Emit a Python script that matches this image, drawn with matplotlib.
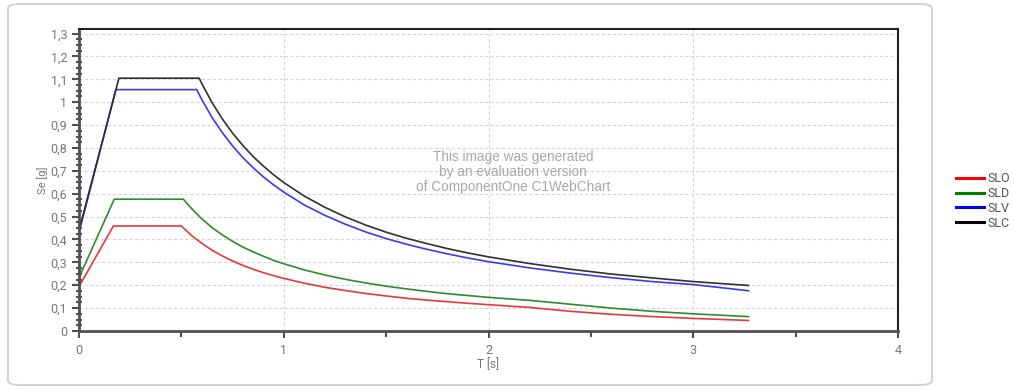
import matplotlib
matplotlib.use("Agg")
import matplotlib.pyplot as plt
from matplotlib.patches import FancyBboxPatch
from matplotlib.ticker import MultipleLocator, FuncFormatter

# Elastic response spectra
T_slo = [0, 0.168, 0.50, 0.55, 0.6, 0.65, 0.7, 0.75, 0.8, 0.85, 0.9, 0.95, 1.0, 1.1, 1.2, 1.3, 1.4,
         1.5, 1.6, 1.7, 1.8, 1.9, 2.0, 2.2, 2.4, 2.6, 2.8, 3.0, 3.27]
se_slo = [0.194, 0.459, 0.459, 0.417, 0.383, 0.353, 0.328, 0.306, 0.287, 0.270, 0.255, 0.242, 0.230,
          0.209, 0.191, 0.177, 0.164, 0.153, 0.143, 0.135, 0.128, 0.121, 0.115, 0.103, 0.086, 0.073,
          0.063, 0.055, 0.046]

T_sld = [0, 0.172, 0.51, 0.55, 0.6, 0.65, 0.7, 0.75, 0.8, 0.85, 0.9, 0.95, 1.0, 1.1, 1.2, 1.3, 1.4,
         1.5, 1.6, 1.7, 1.8, 1.9, 2.0, 2.2, 2.4, 2.6, 2.8, 3.0, 3.27]
se_sld = [0.233, 0.576, 0.576, 0.535, 0.490, 0.452, 0.420, 0.392, 0.367, 0.346, 0.327, 0.309, 0.294,
          0.267, 0.245, 0.226, 0.210, 0.196, 0.184, 0.173, 0.163, 0.155, 0.147, 0.134, 0.117, 0.100,
          0.086, 0.075, 0.063]

T_slv = [0, 0.18, 0.575, 0.6, 0.65, 0.7, 0.75, 0.8, 0.85, 0.9, 0.95, 1.0, 1.1, 1.2, 1.3, 1.4, 1.5,
         1.6, 1.7, 1.8, 1.9, 2.0, 2.2, 2.4, 2.6, 2.8, 3.0, 3.27]
se_slv = [0.43, 1.055, 1.055, 1.011, 0.933, 0.867, 0.809, 0.758, 0.714, 0.674, 0.639, 0.607, 0.551,
          0.506, 0.467, 0.433, 0.404, 0.379, 0.357, 0.337, 0.319, 0.303, 0.276, 0.253, 0.233, 0.216,
          0.203, 0.176]

T_slc = [0, 0.195, 0.587, 0.6, 0.65, 0.7, 0.75, 0.8, 0.85, 0.9, 0.95, 1.0, 1.1, 1.2, 1.3, 1.4, 1.5,
         1.6, 1.7, 1.8, 1.9, 2.0, 2.2, 2.4, 2.6, 2.8, 3.0, 3.27]
se_slc = [0.44, 1.105, 1.105, 1.081, 0.998, 0.927, 0.865, 0.811, 0.763, 0.721, 0.683, 0.649, 0.590,
          0.541, 0.499, 0.463, 0.432, 0.405, 0.382, 0.360, 0.341, 0.324, 0.295, 0.270, 0.249, 0.232,
          0.216, 0.199]

labels = ["SLO", "SLD", "SLV", "SLC"]
colors = ["#ff0000", "#008000", "#0000ff", "#000000"]
plot_colors = ["#e8383a", "#2e8b2e", "#3a3aee", "#303030"]

plt.rcParams["font.family"] = ["Roboto", "DejaVu Sans"]
fig = plt.figure(figsize=(10.14, 3.9), dpi=100)

# rounded panel frame
panel = FancyBboxPatch((8 / 1014, 5 / 390), 924 / 1014, 381 / 390,
                       boxstyle="round,pad=0,rounding_size=0.012",
                       transform=fig.transFigure, facecolor="none",
                       edgecolor="#d4d4d4", linewidth=1.5, zorder=0)
fig.patches.append(panel)

ax = fig.add_axes([79 / 1014, 1 - 331 / 390, (898 - 79) / 1014, (331 - 29) / 390])
ax.set_facecolor("none")

series = [(T_slo, se_slo), (T_sld, se_sld), (T_slv, se_slv), (T_slc, se_slc)]
for (t, s), c in zip(series, plot_colors):
    ax.plot(t, s, color=c, linewidth=1.2)

ax.set_xlim(0, 4)
ax.set_ylim(0, 1.32)

ax.xaxis.set_major_locator(MultipleLocator(1))
ax.xaxis.set_minor_locator(MultipleLocator(0.5))
ax.yaxis.set_major_locator(MultipleLocator(0.1))
ax.yaxis.set_minor_locator(MultipleLocator(0.025))


def comma(v, pos):
    txt = f"{v:.1f}".rstrip("0").rstrip(".")
    return txt.replace(".", ",")


ax.xaxis.set_major_formatter(FuncFormatter(comma))
ax.yaxis.set_major_formatter(FuncFormatter(comma))

ax.grid(True, which="major", color="#d6d6d6", linestyle=(0, (3, 2)), linewidth=0.8)
ax.set_axisbelow(True)

for side in ["left", "bottom"]:
    ax.spines[side].set_linewidth(2)
    ax.spines[side].set_color("#505050")
for side in ["top", "right"]:
    ax.spines[side].set_linewidth(1.5)
    ax.spines[side].set_color("#202020")

ax.tick_params(axis="both", which="major", colors="#505050", labelcolor="#777777",
               labelsize=9, length=5, width=1.5, direction="out")
ax.tick_params(axis="y", which="minor", colors="#505050", length=5, width=1.5, direction="inout")
ax.tick_params(axis="x", which="minor", colors="#505050", length=4, width=1.5, direction="out")
ax.tick_params(axis="x", which="major", pad=4)

ax.set_xlabel("T [s]", fontsize=8.5, color="#777777", labelpad=1)
ax.set_ylabel("Se [g]", fontsize=8, color="#777777", labelpad=2)

# evaluation watermark
fig.text(513 / 1014, 1 - 172 / 390,
         "This image was generated\nby an evaluation version\nof ComponentOne C1WebChart",
         ha="center", va="center", fontsize=9.8, color="#a8a8a8",
         family="Liberation Sans", linespacing=1.05)

handles = [plt.Line2D([], [], color=c, linewidth=2.2) for c in colors]
fig.legend(handles, labels, loc="upper left", bbox_to_anchor=(951 / 1014, 1 - 167 / 390),
           frameon=False, fontsize=9, handlelength=2.2, handletextpad=0.3,
           labelspacing=0.15, borderaxespad=0, labelcolor="#555555")

fig.savefig("out.png", dpi=100)
